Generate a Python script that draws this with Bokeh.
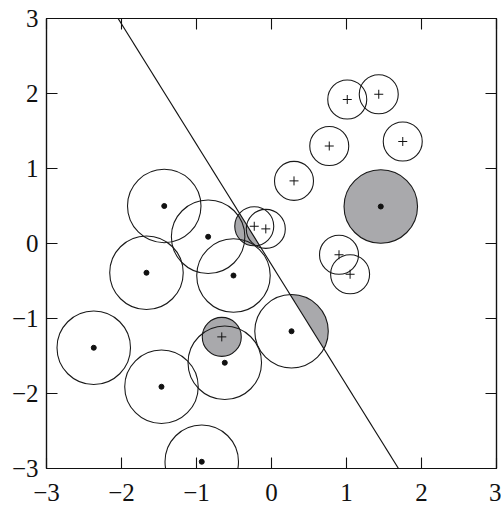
import numpy as np
from bokeh.plotting import figure
from bokeh.models import Range1d, LinearAxis, FixedTicker
from bokeh.embed import file_html
from bokeh.resources import INLINE

# ---- data ----
dot_x = [-1.43, -0.845, -1.667, -0.507, 1.457, 0.267, -2.37, -0.623, -1.467, -0.93]
dot_y = [0.50, 0.09, -0.39, -0.427, 0.493, -1.17, -1.39, -1.59, -1.91, -2.91]
dot_r = [0.49, 0.49, 0.49, 0.49, 0.49, 0.49, 0.49, 0.49, 0.49, 0.49]

plus_x = [1.01, 1.43, 0.77, 1.75, 0.30, -0.23, -0.076, 0.90, 1.048, -0.663]
plus_y = [1.92, 1.99, 1.30, 1.36, 0.835, 0.23, 0.195, -0.15, -0.41, -1.245]
plus_r = [0.26, 0.26, 0.26, 0.26, 0.26, 0.26, 0.26, 0.26, 0.26, 0.26]

line_x = [-2.045, 1.693]
line_y = [3.0, -3.0]

ticks = [-3, -2, -1, 0, 1, 2, 3]
tick_labels = {t: str(t).replace("-", "\u2212") for t in ticks}
blank_labels = {t: "" for t in ticks}

# ---- geometry for shaded (wrong-side) caps ----
p0 = np.array([line_x[0], line_y[0]])
dvec = np.array([line_x[1] - line_x[0], line_y[1] - line_y[0]])
dvec = dvec / np.linalg.norm(dvec)
nvec = np.array([-dvec[1], dvec[0]])


def wrong_region(cx, cy, r, sign):
    t = np.linspace(0, 2 * np.pi, 721)[:-1]
    px = cx + r * np.cos(t)
    py = cy + r * np.sin(t)
    s = (px - p0[0]) * nvec[0] + (py - p0[1]) * nvec[1]
    wrong = sign * s > 0
    if not wrong.any():
        return None
    if wrong.all():
        return list(px), list(py)
    starts = np.where(~wrong & np.roll(wrong, -1))[0]
    idx = (starts[0] + 1) % len(t)
    px = np.roll(px, -idx)
    py = np.roll(py, -idx)
    w = np.roll(wrong, -idx)
    return list(px[w]), list(py[w])


xs, ys = [], []
for cx, cy, r in zip(dot_x, dot_y, dot_r):
    reg = wrong_region(cx, cy, r, +1)
    if reg:
        xs.append(reg[0]); ys.append(reg[1])
for cx, cy, r in zip(plus_x, plus_y, plus_r):
    reg = wrong_region(cx, cy, r, -1)
    if reg:
        xs.append(reg[0]); ys.append(reg[1])

# ---- figure ----
p = figure(width=501, height=511,
           x_range=Range1d(-3, 3), y_range=Range1d(-3, 3),
           output_backend="svg", toolbar_location=None,
           min_border_left=46, min_border_top=18, min_border_right=5, min_border_bottom=43,
           background_fill_color="white", border_fill_color="white")
p.xgrid.visible = False
p.ygrid.visible = False
p.outline_line_color = "#111111"
p.outline_line_width = 1.2
p.outline_line_alpha = 1.0


def style_axis(ax, labels=True, font="Liberation Serif", size="25px"):
    ax.ticker = FixedTicker(ticks=ticks)
    ax.minor_tick_line_color = None
    ax.major_tick_in = 11
    ax.major_tick_out = 0
    ax.major_tick_line_color = "#111111"
    ax.major_tick_line_width = 1.1
    ax.axis_line_color = "#111111"
    ax.axis_line_width = 1.2
    if labels:
        ax.major_label_overrides = tick_labels
        ax.major_label_text_font = font
        ax.major_label_text_font_size = size
        ax.major_label_text_color = "#111111"
    else:
        ax.major_label_overrides = blank_labels
        ax.major_label_text_font_size = "1px"
        ax.major_label_standoff = 0


xa = p.below[0]
ya = p.left[0]
style_axis(xa)
style_axis(ya)
xa.major_label_standoff = 15
ya.major_label_standoff = 8

top_ax = LinearAxis()
right_ax = LinearAxis()
style_axis(top_ax, labels=False)
style_axis(right_ax, labels=False)
p.add_layout(top_ax, "above")
p.add_layout(right_ax, "right")

GRAY = "#a9a9ac"
p.patches(xs, ys, fill_color=GRAY, line_color=None)

p.circle(dot_x, dot_y, radius=dot_r, fill_color=None, line_color="#1a1a1a", line_width=1.1)
p.circle(plus_x, plus_y, radius=plus_r, fill_color=None, line_color="#1a1a1a", line_width=1.1)

p.line(line_x, line_y, line_color="#111111", line_width=1.2)

p.scatter(dot_x, dot_y, marker="circle", size=5, fill_color="#111111", line_color="#111111")
p.scatter(plus_x, plus_y, marker="cross", size=9, line_color="#111111", line_width=1)

open("out.html", "w").write(file_html(p, INLINE))
